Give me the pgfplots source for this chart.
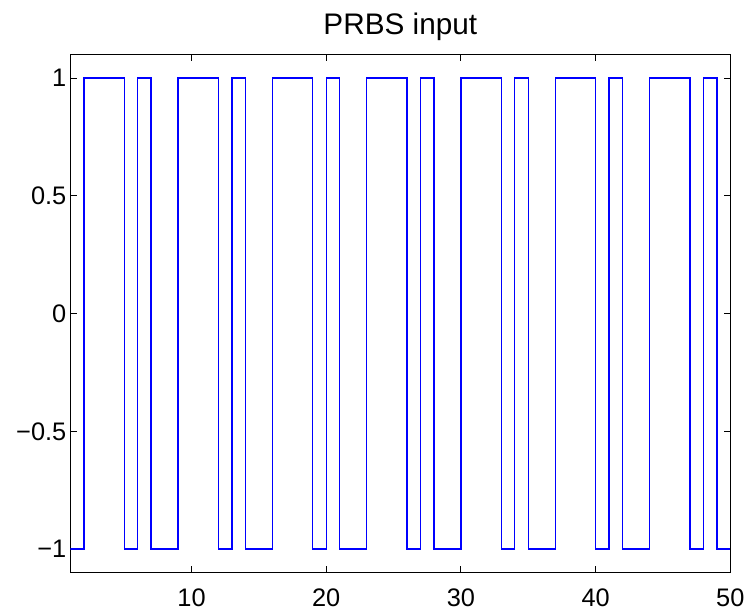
\documentclass[border=0pt]{standalone}
\usepackage{fontspec}
\setmainfont{Liberation Sans}
\usepackage{pgfplots}
\pgfplotsset{compat=1.18}
\begin{document}
\begin{tikzpicture}
\begin{axis}[
  name=ax,
  scale only axis,
  width=333pt, height=261.5pt,
  xmin=1, xmax=50, ymin=-1.1, ymax=1.1,
  xtick={10,20,30,40,50},
  ytick={-1,-0.5,0,0.5,1},
  yticklabels={−1,−0.5,0,0.5,1},
  tick align=inside,
  xtick pos=both, ytick pos=both,
  major tick length=3.2pt,
  axis line style={black, line width=0.6pt},
  every tick/.style={black, line width=0.5pt},
  /pgf/number format/assume math mode=true,
  tick label style={font=\fontsize{12.8pt}{14pt}\selectfont},
  yticklabel style={xshift=1.5pt},
  xticklabel style={yshift=-4.5pt},
  title={PRBS input},
  title style={font=\fontsize{15pt}{17pt}\selectfont, anchor=base, at={(0.5,1)}, yshift=4pt},
]
\addplot[const plot mark left, color={rgb,255:red,0;green,0;blue,255}, line width=0.7pt, mark=none] coordinates {
(1,-1)(2,1)(3,1)(4,1)(5,-1)(6,1)(7,-1)(8,-1)(9,1)(10,1)(11,1)(12,-1)(13,1)(14,-1)(15,-1)
(16,1)(17,1)(18,1)(19,-1)(20,1)(21,-1)(22,-1)(23,1)(24,1)(25,1)(26,-1)(27,1)(28,-1)(29,-1)
(30,1)(31,1)(32,1)(33,-1)(34,1)(35,-1)(36,-1)(37,1)(38,1)(39,1)(40,-1)(41,1)(42,-1)(43,-1)
(44,1)(45,1)(46,1)(47,-1)(48,1)(49,-1)(50,-1)
};
\end{axis}
\path ([xshift=-35.5pt,yshift=-17.5pt]ax.south west) rectangle ([xshift=7pt,yshift=27.5pt]ax.north east);
\end{tikzpicture}
\end{document}
